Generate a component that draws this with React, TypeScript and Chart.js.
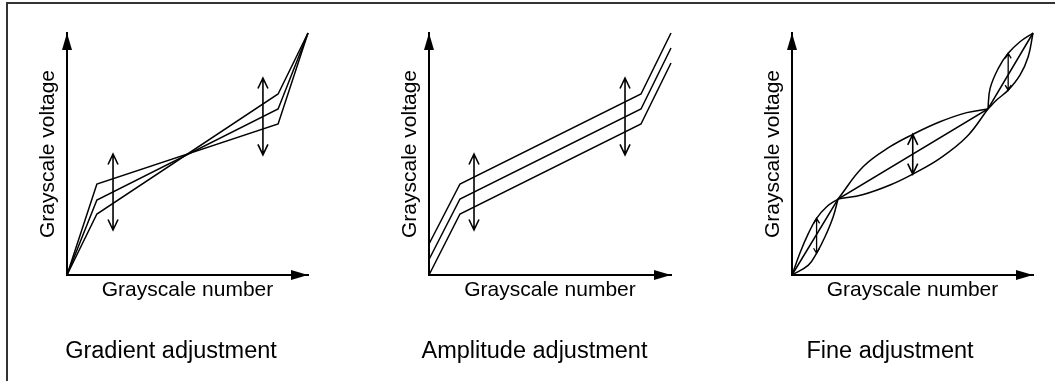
import React, { useEffect, useRef } from 'react';
import { Chart, registerables } from 'chart.js';

Chart.register(...registerables);

// ---------- Data (x: grayscale number 0-100, y: grayscale voltage 0-100) ----------
// Panel 1: Gradient adjustment
const gradX = [0, 12.4, 87.6, 100];
const gradUpper = [0, 37.6, 62.4, 100];
const gradMiddle = [0, 31.0, 68.6, 100];
const gradLower = [0, 25.2, 74.8, 100];
const gradArrows = [
  [19.1, 18.6, 50.0],
  [81.3, 49.6, 81.4],
];

// Panel 2: Amplitude adjustment
const ampX = [0, 12.8, 87.6, 100];
const ampUpper = [12.8, 37.6, 74.8, 100];
const ampMiddle = [6.4, 31.4, 68.6, 93.8];
const ampLower = [0, 25.2, 62.4, 87.6];
const ampArrows = [
  [18.6, 18.6, 50.0],
  [81.0, 49.6, 81.4],
];

// Panel 3: Fine adjustment
const fineX = [0, 19.1, 81.3, 100];
const fineMiddle = [0, 31.4, 68.6, 100];
const lens1UpperX = [0, 3.3, 6.8, 10.2, 14.4, 19.1];
const lens1UpperY = [0, 9.1, 17.2, 23.4, 28.2, 31.4];
const lens1LowerX = [0, 6.8, 10.2, 13.7, 17.1, 19.1];
const lens1LowerY = [0, 4.1, 9.0, 15.8, 24.1, 31.4];
const lens2X = [19.1, 29.6, 40.7, 50.1, 61.4, 72.5, 81.3];
const lens2UpperY = [31.4, 44.8, 53.0, 58.1, 63.3, 67.1, 68.6];
const lens2LowerY = [31.4, 33.3, 37.2, 41.7, 48.2, 57.1, 68.6];
const lens3UpperX = [81.3, 82.2, 85.6, 89.7, 94.6, 100];
const lens3UpperY = [68.6, 77.1, 85.4, 91.6, 96.4, 100];
const lens3LowerX = [81.3, 84.9, 89.7, 94.6, 98.0, 100];
const lens3LowerY = [68.6, 72.3, 76.4, 82.6, 90.2, 100];
const fineArrows = [
  [10.2, 9.0, 23.4, 1],
  [50.1, 41.7, 58.1, 0],
  [89.7, 76.4, 91.6, 1],
];

const xTitle = 'Grayscale number';
const yTitle = 'Grayscale voltage';
const captions = ['Gradient adjustment', 'Amplitude adjustment', 'Fine adjustment'];

const FONT = "'Liberation Sans', Arial, Helvetica, sans-serif";

const pts = (xs: number[], ys: number[]) => xs.map((x, i) => ({ x, y: ys[i] }));

const lineDs = (data: { x: number; y: number }[], tension = 0) => ({
  data,
  borderColor: '#000',
  borderWidth: 1.5,
  pointRadius: 0,
  tension,
  fill: false,
  clip: false as any,
});

function makeOverlay(arrows: number[][]) {
  return {
    id: 'overlay',
    afterDatasetsDraw(chart: any) {
      const { ctx, scales } = chart;
      const xs = scales.x;
      const ys = scales.y;
      const ox = xs.getPixelForValue(0);
      const oy = ys.getPixelForValue(0);
      const tx = xs.getPixelForValue(100);
      const ty = ys.getPixelForValue(100);
      ctx.save();
      ctx.fillStyle = '#000';
      ctx.strokeStyle = '#000';
      // axis arrow heads
      ctx.beginPath();
      ctx.moveTo(ox, ty);
      ctx.lineTo(ox - 5, ty + 17);
      ctx.lineTo(ox + 5, ty + 17);
      ctx.closePath();
      ctx.fill();
      ctx.beginPath();
      ctx.moveTo(tx, oy);
      ctx.lineTo(tx - 17, oy - 5);
      ctx.lineTo(tx - 17, oy + 5);
      ctx.closePath();
      ctx.fill();
      // double arrows
      for (const a of arrows) {
        const small = a[3] === 1;
        const px = xs.getPixelForValue(a[0]);
        const yb = ys.getPixelForValue(a[1]);
        const yt = ys.getPixelForValue(a[2]);
        const hl = small ? 5 : 10.5;
        const hw = small ? 3 : 5;
        ctx.lineWidth = small ? 1.3 : 1.6;
        ctx.beginPath();
        ctx.moveTo(px, yt);
        ctx.lineTo(px, yb);
        ctx.moveTo(px - hw, yt + hl);
        ctx.lineTo(px, yt);
        ctx.lineTo(px + hw, yt + hl);
        ctx.moveTo(px - hw, yb - hl);
        ctx.lineTo(px, yb);
        ctx.lineTo(px + hw, yb - hl);
        ctx.stroke();
      }
      ctx.restore();
    },
  };
}

type PanelProps = {
  left: number;
  width: number;
  padLeft: number;
  padRight: number;
  yTitleTop: number;
  caption: string;
  datasets: any[];
  arrows: number[][];
};

function Panel({ left, width, padLeft, padRight, yTitleTop, caption, datasets, arrows }: PanelProps) {
  const ref = useRef<HTMLCanvasElement>(null);
  useEffect(() => {
    if (!ref.current) return;
    const chart = new Chart(ref.current, {
      type: 'line',
      data: { datasets },
      options: {
        animation: false,
        responsive: false,
        devicePixelRatio: 1,
        layout: { padding: { left: padLeft, right: padRight, top: 33, bottom: 14.9 } },
        scales: {
          x: {
            type: 'linear',
            min: 0,
            max: 100,
            grid: { display: false, drawTicks: false },
            ticks: { display: false },
            border: { display: true, color: '#000', width: 2 },
            title: {
              display: true,
              text: xTitle,
              color: '#000',
              font: { family: FONT, size: 21 },
              padding: { top: 2.4, bottom: 9.4 },
            },
          },
          y: {
            type: 'linear',
            min: 0,
            max: 100,
            grid: { display: false, drawTicks: false },
            ticks: { display: false },
            border: { display: true, color: '#000', width: 2 },
            title: {
              display: true,
              text: yTitle,
              color: '#000',
              font: { family: FONT, size: 21 },
              padding: { top: yTitleTop, bottom: 5.9 },
            },
          },
        },
        plugins: {
          legend: { display: false },
          tooltip: { enabled: false },
          title: {
            display: true,
            position: 'bottom',
            text: caption,
            color: '#000',
            font: { family: FONT, size: 23.5, weight: 'normal' },
            padding: { top: 25.9, bottom: 0 },
          },
        },
      } as any,
      plugins: [makeOverlay(arrows)],
    });
    return () => chart.destroy();
  }, []);
  return (
    <canvas
      ref={ref}
      width={width}
      height={381}
      style={{ position: 'absolute', left, top: 0, width, height: 381 }}
    />
  );
}

export default function App() {
  useEffect(() => {
    document.body.style.margin = '0';
    document.body.style.overflow = 'hidden';
  }, []);

  const gradDs = [
    lineDs(pts(gradX, gradUpper)),
    lineDs(pts(gradX, gradMiddle)),
    lineDs(pts(gradX, gradLower)),
  ];
  const ampDs = [
    lineDs(pts(ampX, ampUpper)),
    lineDs(pts(ampX, ampMiddle)),
    lineDs(pts(ampX, ampLower)),
  ];
  const fineDs = [
    lineDs(pts(fineX, fineMiddle)),
    lineDs(pts(lens1UpperX, lens1UpperY), 0.4),
    lineDs(pts(lens1LowerX, lens1LowerY), 0.4),
    lineDs(pts(lens2X, lens2UpperY), 0.4),
    lineDs(pts(lens2X, lens2LowerY), 0.4),
    lineDs(pts(lens3UpperX, lens3UpperY), 0.4),
    lineDs(pts(lens3LowerX, lens3LowerY), 0.4),
  ];

  return (
    <div style={{ position: 'absolute', left: 0, top: 0, width: 1055, height: 381, background: '#fff', overflow: 'hidden' }}>
      <div
        style={{
          position: 'absolute',
          left: 6,
          top: 2,
          width: 1060,
          height: 390,
          borderTop: '2px solid #333',
          borderLeft: '2px solid #333',
        }}
      />
      <Panel left={10} width={330} padLeft={24} padRight={32} yTitleTop={1.9} caption={captions[0]} datasets={gradDs} arrows={gradArrows} />
      <Panel left={360} width={330} padLeft={37.9} padRight={19} yTitleTop={0} caption={captions[1]} datasets={ampDs} arrows={ampArrows} />
      <Panel left={710} width={340} padLeft={37} padRight={17} yTitleTop={13.9} caption={captions[2]} datasets={fineDs} arrows={fineArrows} />
    </div>
  );
}
